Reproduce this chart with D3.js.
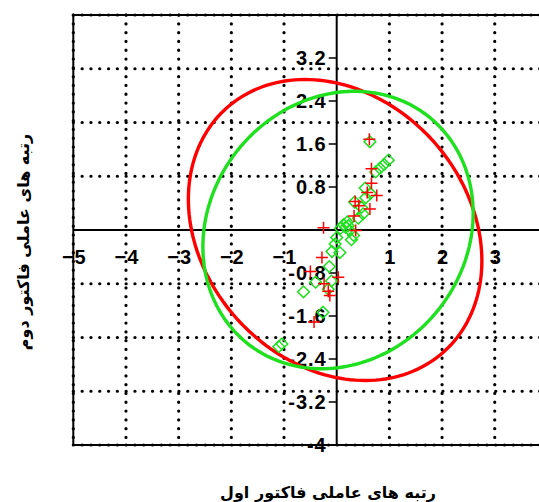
<!DOCTYPE html>
<html>
<head>
<meta charset="utf-8">
<script src="https://cdn.jsdelivr.net/npm/d3@7"></script>
<style>
html,body{margin:0;padding:0;background:#fff;}
svg{display:block;}
</style>
</head>
<body>
<svg id="chart" width="539" height="502"></svg>
<script>
// ---- data ----
const xTicks = [-5, -4, -3, -2, -1, 1, 2, 3];
const yTicks = [-4, -3.2, -2.4, -1.6, -0.8, 0.8, 1.6, 2.4, 3.2];
const yTickLabels = ["-4", "-3.2", "-2.4", "-1.6", "-0.8", "0.8", "1.6", "2.4", "3.2"];
const xGrid = [-4, -3, -2, -1, 1, 2, 3, 4];
const yGrid = [-3, -2, -1, 1, 2, 3];

const redX = [0.62, 0.66, 0.66, 0.76, 0.58, 0.35, 0.63, 0.33, 0.42, -0.25, 0.36, -0.28, -0.50, 0.03, -0.24, -0.16, -0.13, -0.43];
const redY = [1.69, 1.14, 0.87, 0.64, 0.70, 0.53, 0.39, 0.26, 0.45, 0.04, -0.01, -0.51, -0.77, -0.88, -1.00, -1.14, -1.22, -1.71];

const greenX = [0.63, 0.98, 0.90, 0.82, 0.74, 0.54, 0.64, 0.55, 0.34, 0.47, 0.50, 0.41, 0.20, 0.17, 0.22, 0.13, 0.07, 0.25, 0.32, 0.28, 0.00, -0.03, -0.09, 0.06, -0.14, -0.40, -0.63, -0.10, -0.16, -0.26, -1.10, -1.04];
const greenY = [1.64, 1.30, 1.22, 1.15, 1.08, 0.78, 0.68, 0.60, 0.52, 0.42, 0.30, 0.22, 0.15, 0.05, 0.08, 0.10, 0.03, -0.01, -0.10, -0.18, -0.14, -0.26, -0.40, -0.42, -0.68, -0.97, -1.15, -0.95, -1.10, -1.53, -2.17, -2.12];

// ellipses: [centerX, centerY, varX, varY, covXY]
const redEllipse = [-0.03, 0.0, 7.76, 7.84, -1.6];
const greenEllipse = [0.025, 0.0, 6.58, 6.66, 0.8];

const xTitle = "رتبه های عاملی فاکتور اول";
const yTitle = "رتبه های عاملی فاکتور دوم";

// ---- drawing ----
const svg = d3.select("#chart");
const x = d3.scaleLinear().domain([-5, 5]).range([73.3, 600.1]);
const y = d3.scaleLinear().domain([-4, 4]).range([445, 15]);

const RED = "#ff0000", GREEN = "#1ee01e";
const dotted = {w: 3.2, dash: "0.1 8.7"};

// frame (solid)
svg.append("rect")
  .attr("x", x(-5)).attr("y", y(4))
  .attr("width", x(5) - x(-5)).attr("height", y(-4) - y(4))
  .attr("fill", "none").attr("stroke", "#000").attr("stroke-width", 2);

// dotted grid (including frame edges)
const g = svg.append("g");
[-5, ...xGrid].forEach(v => {
  g.append("line").attr("x1", x(v)).attr("x2", x(v)).attr("y1", y(4)).attr("y2", y(-4))
    .attr("stroke", "#000").attr("stroke-width", dotted.w)
    .attr("stroke-dasharray", dotted.dash).attr("stroke-linecap", "round");
});
[-4, ...yGrid, 4].forEach(v => {
  g.append("line").attr("x1", x(-5)).attr("x2", x(5)).attr("y1", y(v)).attr("y2", y(v))
    .attr("stroke", "#000").attr("stroke-width", dotted.w)
    .attr("stroke-dasharray", dotted.dash).attr("stroke-linecap", "round");
});

// axes lines through origin
svg.append("line").attr("x1", x(-5)).attr("x2", x(5)).attr("y1", y(0)).attr("y2", y(0))
  .attr("stroke", "#000").attr("stroke-width", 2);
svg.append("line").attr("x1", x(0)).attr("x2", x(0)).attr("y1", y(4)).attr("y2", y(-4))
  .attr("stroke", "#000").attr("stroke-width", 2);

// y ticks + labels (on vertical axis)
const yAxis = svg.append("g").attr("font-family", "'Liberation Sans', Arial, sans-serif")
  .attr("font-weight", "bold").attr("font-size", 20);
yTicks.forEach((v, i) => {
  yAxis.append("line").attr("x1", x(0) - 8).attr("x2", x(0)).attr("y1", y(v)).attr("y2", y(v))
    .attr("stroke", "#000").attr("stroke-width", 1.5);
  yAxis.append("text").attr("x", x(0) - 10).attr("y", y(v)).attr("dy", "0.36em")
    .attr("text-anchor", "end").attr("letter-spacing", 1).text(yTickLabels[i]);
});

// x tick labels
const xAxis = svg.append("g").attr("font-family", "'Liberation Sans', Arial, sans-serif")
  .attr("font-weight", "bold").attr("font-size", 20);
xTicks.forEach(v => {
  xAxis.append("text").attr("x", x(v) + 1).attr("y", y(0) + 34)
    .attr("text-anchor", "middle").attr("letter-spacing", 1).text(d3.format("d")(v));
});

// ellipses
function ellipsePts(e) {
  const [cx, cy, sxx, syy, sxy] = e;
  const l11 = Math.sqrt(sxx), l21 = sxy / l11, l22 = Math.sqrt(syy - l21 * l21);
  return d3.range(0, 361, 2).map(a => {
    const t = a * Math.PI / 180;
    return [cx + l11 * Math.cos(t), cy + l21 * Math.cos(t) + l22 * Math.sin(t)];
  });
}
const line = d3.line().x(d => x(d[0])).y(d => y(d[1])).curve(d3.curveLinearClosed);
svg.append("path").attr("d", line(ellipsePts(redEllipse)))
  .attr("fill", "none").attr("stroke", RED).attr("stroke-width", 3.4);
svg.append("path").attr("d", line(ellipsePts(greenEllipse)))
  .attr("fill", "none").attr("stroke", GREEN).attr("stroke-width", 3.4);

// green diamonds
const diamond = d3.symbol().type(d3.symbolSquare).size(68);
svg.append("g").selectAll("path").data(greenX.map((v, i) => [v, greenY[i]])).join("path")
  .attr("d", diamond)
  .attr("transform", d => `translate(${x(d[0])},${y(d[1])}) rotate(45)`)
  .attr("fill", "none").attr("stroke", GREEN).attr("stroke-width", 1.5);

// red plus
svg.append("g").selectAll("path").data(redX.map((v, i) => [v, redY[i]])).join("path")
  .attr("d", "M-6,0H6M0,-6V6")
  .attr("transform", d => `translate(${x(d[0])},${y(d[1])})`)
  .attr("fill", "none").attr("stroke", RED).attr("stroke-width", 1.5);

// titles
svg.append("text").attr("x", 328).attr("y", 498)
  .attr("text-anchor", "middle").attr("font-family", "'DejaVu Sans', sans-serif")
  .attr("font-weight", "bold").attr("font-size", 16).attr("direction", "rtl")
  .text(xTitle);
svg.append("text").attr("transform", "translate(29,242) rotate(-90)")
  .attr("text-anchor", "middle").attr("font-family", "'DejaVu Sans', sans-serif")
  .attr("font-weight", "bold").attr("font-size", 16).attr("direction", "rtl")
  .text(yTitle);
</script>
</body>
</html>
